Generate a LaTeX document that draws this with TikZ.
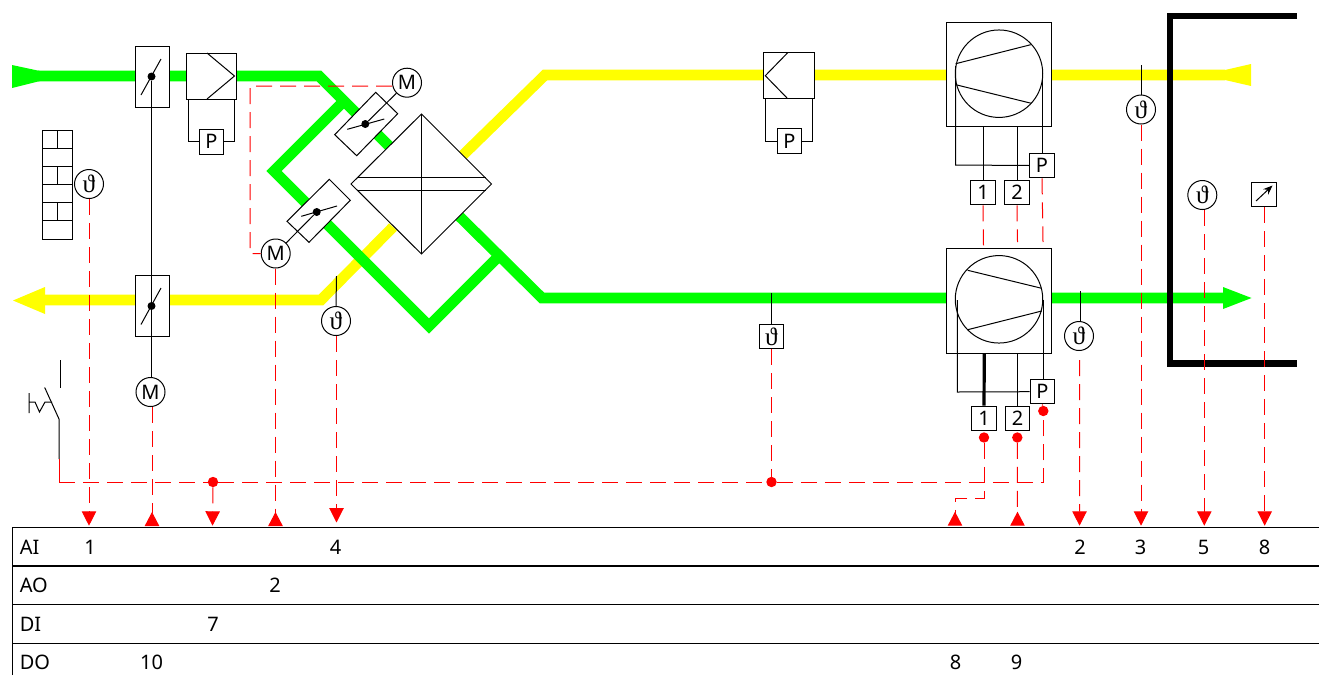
\documentclass[tikz,border=0pt]{standalone}
\usepackage{fontspec}
\setmainfont{Noto Sans}
\newfontfamily\thetafont{Liberation Serif}
\usetikzlibrary{arrows.meta,calc}
\definecolor{ductg}{RGB}{0,255,0}
\definecolor{ducty}{RGB}{255,255,0}
\tikzset{
  x=0.75pt,y=-0.75pt,
  thin line/.style={draw=black,line width=0.75pt},
  duct/.style={line width=8pt,line join=miter,miter limit=10},
  gduct/.style={duct,draw=ductg},
  yduct/.style={duct,draw=ducty},
  sig/.style={draw=red,line width=0.75pt,dash pattern=on 12pt off 6pt},
  lbl/.style={font=\fontsize{15}{17}\selectfont,inner sep=0pt},
  round/.style={circle,thin line,fill=white,minimum size=21.75pt,inner sep=0pt,font=\fontsize{15}{17}\selectfont},
  sq/.style={rectangle,thin line,fill=white,minimum size=18.4pt,inner sep=0pt,font=\fontsize{15}{17}\selectfont},
  dotb/.style={circle,fill=black,minimum size=6pt,inner sep=0pt},
  dotr/.style={circle,fill=red,minimum size=7.8pt,inner sep=0pt},
  tipd/.style={-{Triangle[length=10.8pt,width=10.8pt,fill=red]}},
  tipu/.style={-{Triangle[reversed,length=10.5pt,width=10.8pt,fill=red]}},
  rowline/.style={draw=black,line width=0.75pt},
}
\newcommand{\thsym}{{\thetafont\fontsize{19}{20}\selectfont ϑ}}
\begin{document}
\begin{tikzpicture}
\useasboundingbox (0,0) rectangle (1319,675);
\fill[white] (0,0) rectangle (1319,675);
% ---- yellow ducts
\draw[yduct] (1225,75) -- (545,75) -- (462,156);
\draw[yduct] (393,227) -- (321,300) -- (44,300);
\fill[ducty] (1225,70) -- (1251,64) -- (1251,86) -- (1225,80) -- cycle;
\fill[ducty] (45,287) -- (13,300.5) -- (45,314) -- cycle;
% ---- green ducts
\draw[gduct] (38,76) -- (319,76) -- (392,149);
\draw[gduct] (342,103) -- (274,171) -- (429,326) -- (499,256);
\draw[gduct] (458,215) -- (542,298) -- (1225,298);
\fill[ductg] (40,71) -- (12,65) -- (12,88) -- (40,81) -- cycle;
\fill[ductg] (1223,287) -- (1251.5,298) -- (1223,309) -- cycle;
% ---- building wall
\draw[black,line width=4.6pt,line join=miter] (1297,15.7) -- (1170,15.7) -- (1170,363.5) -- (1297,363.5);
% ---- brick wall
\draw[thin line,fill=white] (42,130.5) rectangle (72.5,239);
\foreach \yy in {148.5,166.5,184.5,202.5,220.5} \draw[thin line] (42,\yy) -- (72.5,\yy);
\draw[thin line] (57.5,130.5) -- (57.5,148.5) (57.5,166.5) -- (57.5,184.5) (57.5,202.5) -- (57.5,220.5);
% ---- outside air damper and filter
\node[rectangle,thin line,fill=white,minimum width=25.5pt,minimum height=45.75pt,inner sep=0pt] (damperA) at (152,76.5) {};
\node[rectangle,thin line,fill=white,minimum width=25.5pt,minimum height=45.75pt,inner sep=0pt] (damperB) at (152,306) {};
\draw[thin line] (141,95) -- (161,59);
\draw[thin line] (141,324.5) -- (161,288);
\node[dotb] (dotA) at (151.5,76.5) {};
\node[dotb] (dotB) at (151.5,306) {};
\node[round] (motorA) at (150.5,392) {M};
\draw[thin line] (dotA) -- (dotB) -- (motorA.north -| dotB);
\node[rectangle,thin line,fill=white,minimum width=37.5pt,minimum height=34.5pt,inner sep=0pt] (filterA) at (211,76) {};
\draw[thin line] (207,53) -- (234.5,76) -- (207,99);
\node[sq] (pA) at (211.3,141.8) {P};
\draw[thin line] (188,99) |- (pA.west);
\draw[thin line] (234,99) |- (pA.east);
% ---- filter 2
\node[rectangle,thin line,fill=white,minimum width=38.5pt,minimum height=34.5pt,inner sep=0pt] (filterB) at (789,75.7) {};
\draw[thin line] (787.7,52.7) -- (765.3,75.7) -- (787.7,98.7);
\node[sq] (pB) at (789.3,141) {P};
\draw[thin line] (765.7,98.7) |- (pB.west);
\draw[thin line] (812.3,98.7) |- (pB.east);
% ---- heat exchanger
\node[round] (motorB) at (407,82.7) {M};
\node[round] (motorC) at (275.7,253.5) {M};
\draw[thin line,fill=white] (351,184) -- (421.5,114) -- (491.5,184) -- (421.5,254) -- cycle;
\draw[thin line] (421.5,114) -- (421.5,254) (357.5,177.7) -- (485.5,177.7) (357.5,190.5) -- (485.5,190.5);
% ---- dampers on the bypass
\draw[thin line,fill=white] (375.7,92.3) -- (397.7,113.7) -- (356.7,155.7) -- (334.7,134.7) -- cycle;
\draw[thin line,fill=white] (329.3,179.3) -- (350.3,200.3) -- (309,242.3) -- (287,221.3) -- cycle;
\draw[thin line] (347.3,129.3) -- (384.3,119);
\draw[thin line] (301.3,216.3) -- (337,206);
\node[dotb] (dotC) at (365.3,124) {};
\node[dotb] (dotD) at (316.7,212) {};
\draw[thin line] (dotC) -- (motorB);
\draw[thin line] (dotD) -- (motorC);
\coordinate (mbTap) at ($(motorB.west)+(0,3.3)$);
\draw[sig] (mbTap) -- (250,86) -- (250,253.5) -- (motorC.west);
% ---- fans
\node[rectangle,thin line,fill=white,minimum size=78.3pt,inner sep=0pt] (fanA) at (999,74.5) {};
\node[circle,thin line,minimum size=65.6pt,inner sep=0pt] (wheelA) at (999,73.7) {};
\draw[thin line] (955.7,63.7) -- (1030.7,44.7) (955.7,84.7) -- (1031.3,103.3);
\node[sq] (oneA) at (983,192.5) {1};
\node[sq] (twoA) at (1017,192.5) {2};
\node[sq] (pC) at (1042,165.5) {P};
\draw[thin line] (955.7,66) -- (955.7,165) -- (pC.west);
\draw[thin line] (1042.7,70) -- (1042.7,153);
\draw[thin line] (983,126.7) -- (oneA.north);
\draw[thin line] (1017,126.7) -- (twoA.north);
\node[rectangle,thin line,fill=white,minimum size=78.3pt,inner sep=0pt] (fanB) at (999,300.8) {};
\node[circle,thin line,minimum size=65.6pt,inner sep=0pt] (wheelB) at (999,299.3) {};
\draw[thin line] (967.7,270.3) -- (1041.7,288.3) (967.7,329.7) -- (1041.7,311);
\node[sq] (oneB) at (984,418.3) {1};
\node[sq] (twoB) at (1017.5,418.3) {2};
\node[sq] (pD) at (1042.3,391.7) {P};
\draw[thin line] (957.3,300) -- (957.3,392) -- (pD.west);
\draw[thin line] (1043.3,300) -- (1043.3,379.3);
\draw[black,line width=2.4pt] (984.3,353.3) -- (oneB.north);
\draw[thin line] (1017.5,353.3) -- (twoB.north);
% ---- sensors
\node[round] (tWall) at (89,184) {\thsym};
\node[round] (tExh) at (336,321) {\thsym};
\node[sq] (tDuct) at (771.5,336.5) {\thsym};
\node[round] (tOut) at (1079,336) {\thsym};
\node[round] (tSup) at (1141,109.5) {\thsym};
\node[round] (tRoom) at (1202.3,195) {\thsym};
\node[sq] (hRoom) at (1264,194.3) {};
\draw[thin line,-{Stealth[length=7pt,width=5.5pt]}] (1256,201) -- (1272.5,185.5);
\draw[thin line] (336.5,276) -- (tExh.north);
\draw[thin line] (771.5,293) -- (tDuct.north);
\draw[thin line] (1080,291) -- (1080,321.5);
\draw[thin line] (1141,65) -- (tSup.north);
% ---- switch
\draw[thin line] (60.5,360) -- (60.5,387.5);
\draw[thin line] (44.7,387.5) -- (59,419) -- (59,459);
\draw[thin line] (29,393) -- (29,413) (29,402) -- (35,402) -- (39.5,412) -- (45,402) -- (52,402);
\draw[red,line width=0.75pt] (59,459) -- (59,482);
% ---- signal lines
\node[dotr] (dotDI) at (213,482) {};
\node[dotr] (dotDuct) at (771.5,482) {};
\node[dotr] (dotP) at (1043.3,411) {};
\node[dotr] (dotOne) at (984,437.5) {};
\node[dotr] (dotTwo) at (1017.3,437.5) {};
\draw[sig] (59,482) -- (dotDI) -- (dotDuct) -- (1043.3,482) -- (dotP);
\draw[sig] (tDuct.south) -- (dotDuct);
\coordinate (aA) at (89,525.7);
\coordinate (aB) at (152,526);
\coordinate (aC) at (212.5,525.7);
\coordinate (aD) at (275.5,526);
\coordinate (aE) at (336.5,522.5);
\coordinate (aF) at (955,525.7);
\coordinate (aG) at (1017.5,525.7);
\coordinate (aH) at (1079.5,525.7);
\coordinate (aI) at (1141,525.7);
\coordinate (aJ) at (1204.3,525.7);
\coordinate (aK) at (1264.7,525.7);
\draw[sig,tipd] (tWall.south) -- (aA);
\draw[sig,tipu] (motorA.south -| aB) -- (aB);
\draw[sig,tipd] (dotDI) -- (aC);
\draw[sig,tipu] (motorC.south -| aD) -- (aD);
\draw[sig,tipd] (tExh.south -| aE) -- (aE);
\draw[sig,tipu] (dotOne) -- (984,498) -- (955,498) -- (aF);
\draw[sig,tipu] (dotTwo) -- (aG);
\draw[sig,tipd] (1079.7,360) -- (aH);
\draw[sig,tipd] (tSup.south) -- (aI);
\draw[sig,tipd] (tRoom.south -| aJ) -- (aJ);
\draw[sig,tipd] (hRoom.south -| aK) -- (aK);
\draw[sig] (oneA.south) -- (983.5,246);
\draw[sig] (twoA.south) -- (1017.5,242);
\draw[sig] (pC.south) -- (1043,242);
\draw[sig] (pD.south) -- (dotP);
% ---- table
\draw[rowline] (12,675) -- (12,527.3) -- (1319,527.3);
\draw[draw=black,line width=1.2pt] (12,566) -- (1319,566);
\draw[rowline] (12,604.3) -- (1319,604.3);
\draw[rowline] (12,643.3) -- (1319,643.3);
\node[lbl,anchor=base west] (rowAI) at (19.5,554) {AI};
\node[lbl,anchor=base west] (rowAO) at (19.5,592) {AO};
\node[lbl,anchor=base west] (rowDI) at (19.5,631) {DI};
\node[lbl,anchor=base west] (rowDO) at (19.5,669) {DO};
\node[lbl,anchor=base] (nA) at (90,554) {1};
\node[lbl,anchor=base] (nB) at (335.5,554) {4};
\node[lbl,anchor=base] (nC) at (1080,554) {2};
\node[lbl,anchor=base] (nD) at (1140.5,554) {3};
\node[lbl,anchor=base] (nE) at (1203.5,554) {5};
\node[lbl,anchor=base] (nF) at (1264.5,554) {8};
\node[lbl,anchor=base] (nG) at (275,592) {2};
\node[lbl,anchor=base] (nH) at (213,631) {7};
\node[lbl,anchor=base] (nI) at (151.5,669) {10};
\node[lbl,anchor=base] (nJ) at (955.5,669) {8};
\node[lbl,anchor=base] (nK) at (1016.5,669) {9};
\end{tikzpicture}
\end{document}
